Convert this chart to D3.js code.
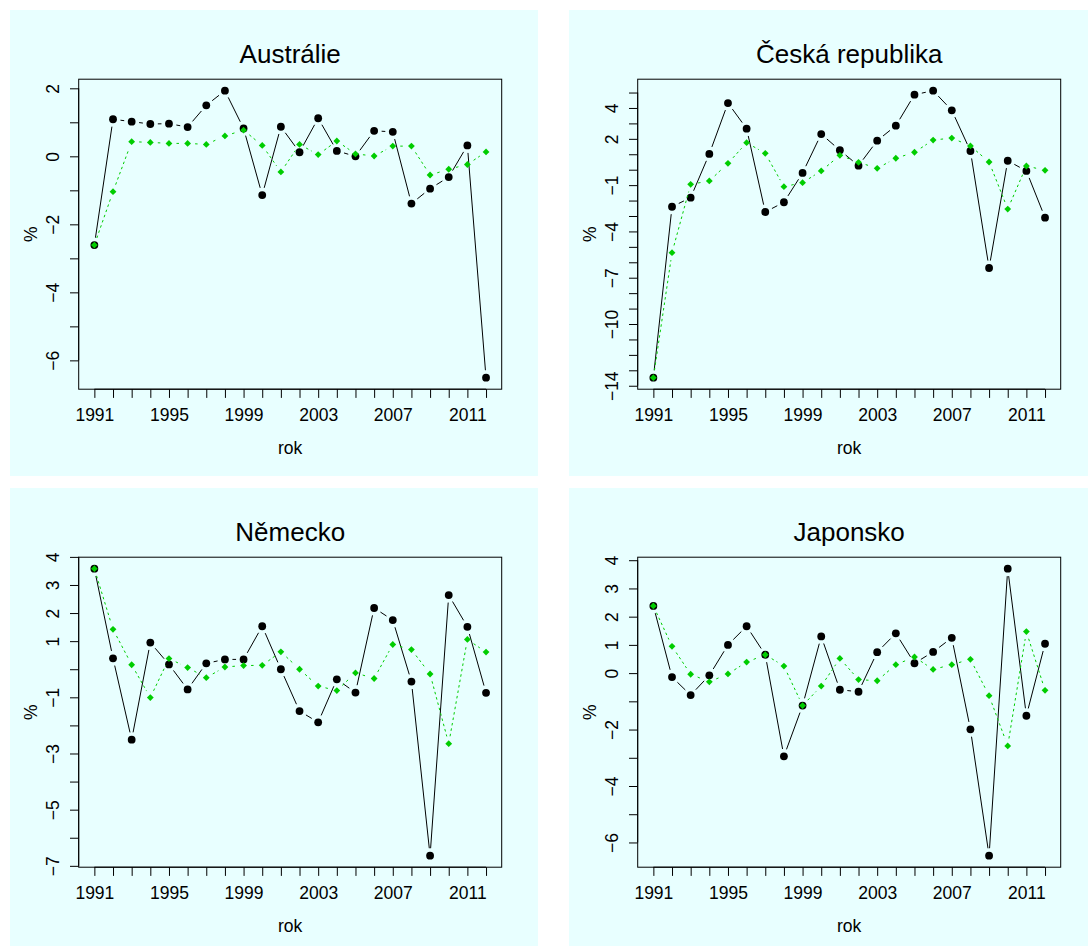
<!DOCTYPE html>
<html>
<head>
<meta charset="utf-8">
<script src="https://cdn.jsdelivr.net/npm/d3@7"></script>
<style>
  html, body { margin: 0; padding: 0; background: #ffffff; }
  svg { display: block; }
  text { font-family: "Liberation Sans", Arial, Helvetica, sans-serif; fill: #000; }
</style>
</head>
<body>
<svg id="chart" width="1088" height="946"></svg>
<script>
// ---------- data ----------
const years = [1991,1992,1993,1994,1995,1996,1997,1998,1999,2000,2001,2002,2003,2004,2005,2006,2007,2008,2009,2010,2011,2012];
const xLabelYears = [1991,1995,1999,2003,2007,2011];

const titles = ["Austrálie", "Česká republika", "Německo", "Japonsko"];
const xTitle = "rok";
const yTitle = "%";

// Austrálie
const ausBlack = [-2.61,1.09,1.02,0.95,0.96,0.86,1.50,1.93,0.82,-1.14,0.87,0.12,1.12,0.16,0.00,0.75,0.72,-1.39,-0.95,-0.61,0.32,-6.51];
const ausGreen = [-2.61,-1.04,0.43,0.41,0.38,0.38,0.35,0.60,0.77,0.32,-0.46,0.35,0.05,0.45,0.07,0.01,0.30,0.30,-0.55,-0.38,-0.24,0.13];
const ausTicks = [-6,-5,-4,-3,-2,-1,0,1,2];
const ausLabels = [-6,-4,-2,0,2];

// Česká republika
const czeBlack = [-13.48,-2.40,-1.81,1.02,4.32,2.66,-2.74,-2.11,-0.21,2.31,1.26,0.26,1.88,2.85,4.86,5.12,3.85,1.21,-6.37,0.58,-0.08,-3.11];
const czeGreen = [-13.48,-5.38,-0.95,-0.73,0.41,1.75,1.06,-1.10,-0.84,-0.08,0.93,0.48,0.09,0.74,1.13,1.92,2.05,1.54,0.50,-2.55,0.24,-0.04];
const czeTicks = [-14,-13,-12,-11,-10,-9,-8,-7,-6,-5,-4,-3,-2,-1,0,1,2,3,4,5];
const czeLabels = [-14,-10,-7,-4,-1,2,4];

// Německo
const deuBlack = [3.58,0.39,-2.51,0.95,0.17,-0.72,0.21,0.35,0.35,1.53,0.00,-1.49,-1.89,-0.36,-0.83,2.18,1.75,-0.44,-6.64,2.64,1.51,-0.84];
const deuGreen = [3.58,1.42,0.16,-1.01,0.38,0.06,-0.30,0.08,0.13,0.14,0.62,0.00,-0.60,-0.76,-0.13,-0.33,0.88,0.70,-0.17,-2.65,1.06,0.61];
const deuTicks = [-7,-6,-5,-4,-3,-2,-1,0,1,2,3,4];
const deuLabels = [-7,-5,-3,-1,1,2,3,4];

// Japonsko
const jpnBlack = [2.38,-0.14,-0.78,-0.08,1.00,1.66,0.65,-2.95,-1.15,1.30,-0.59,-0.66,0.74,1.41,0.35,0.75,1.25,-1.99,-6.47,3.70,-1.51,1.04];
const jpnGreen = [2.38,0.95,-0.04,-0.31,-0.03,0.39,0.65,0.25,-1.15,-0.46,0.52,-0.23,-0.27,0.30,0.57,0.13,0.30,0.49,-0.80,-2.58,1.47,-0.61];
const jpnTicks = [-6,-5,-4,-3,-2,-1,0,1,2,3,4];
const jpnLabels = [-6,-4,-2,0,1,2,3,4];

const panels = [
  { title: titles[0], black: ausBlack, green: ausGreen, ticks: ausTicks, labels: ausLabels },
  { title: titles[1], black: czeBlack, green: czeGreen, ticks: czeTicks, labels: czeLabels },
  { title: titles[2], black: deuBlack, green: deuGreen, ticks: deuTicks, labels: deuLabels },
  { title: titles[3], black: jpnBlack, green: jpnGreen, ticks: jpnTicks, labels: jpnLabels }
];

// ---------- layout / style ----------
const panelX = [10, 569];
const panelY = [10, 488];
const panelW = 528, panelH = 466;
const boxOffX = 68.7, boxOffY = 69.2;
const boxW = 423, boxH = 310;
const bgColor = "#E8FFFF";
const greenColor = "#00CD00";
const gap = 7.5;
const tickLen = 8.7;
const fontSize = 17.5;
const titleSize = 26;

const fmt = v => (v < 0 ? "\u2212" + Math.abs(v) : String(v));

const svg = d3.select("#chart");

function gappedSegments(pts) {
  const segs = [];
  for (let i = 0; i < pts.length - 1; i++) {
    const [x1, y1] = pts[i], [x2, y2] = pts[i + 1];
    const dx = x2 - x1, dy = y2 - y1;
    const len = Math.hypot(dx, dy);
    if (len <= 2 * gap) continue;
    const ux = dx / len, uy = dy / len;
    segs.push([x1 + ux * gap, y1 + uy * gap, x2 - ux * gap, y2 - uy * gap]);
  }
  return segs;
}

panels.forEach((p, i) => {
  const ox = panelX[i % 2], oy = panelY[Math.floor(i / 2)];
  const g = svg.append("g").attr("transform", `translate(${ox},${oy})`);

  g.append("rect").attr("x", 0).attr("y", 0).attr("width", panelW).attr("height", panelH)
    .attr("fill", bgColor);

  const left = boxOffX, top = boxOffY, right = left + boxW, bottom = top + boxH;

  const x0 = years[0], x1 = years[years.length - 1];
  const x = d3.scaleLinear()
    .domain([x0 - 0.04 * (x1 - x0), x1 + 0.04 * (x1 - x0)])
    .range([left, right]);
  const all = p.black.concat(p.green);
  const mn = d3.min(all), mx = d3.max(all), sp = mx - mn;
  const y = d3.scaleLinear().domain([mn - 0.04 * sp, mx + 0.04 * sp]).range([bottom, top]);

  // box
  g.append("rect").attr("x", left).attr("y", top).attr("width", boxW).attr("height", boxH)
    .attr("fill", "none").attr("stroke", "#000").attr("stroke-width", 1);

  // x axis
  const xAxis = d3.axisBottom(x).tickValues(years).tickSize(tickLen).tickSizeOuter(0)
    .tickFormat(d => xLabelYears.includes(d) ? String(d) : "");
  const xg = g.append("g").attr("transform", `translate(0,${bottom})`).call(xAxis);
  xg.select(".domain").attr("d", `M${x(years[0])},0H${x(years[years.length - 1])}`).attr("stroke", "#000");
  xg.selectAll(".tick line").attr("stroke", "#000");
  xg.selectAll(".tick text").attr("y", 31.5).attr("dy", null)
    .style("font-size", fontSize + "px").style("font-family", "'Liberation Sans', Arial, sans-serif")
    .attr("fill", "#000");

  // y axis
  const yAxis = d3.axisLeft(y).tickValues(p.ticks).tickSize(tickLen).tickSizeOuter(0)
    .tickFormat(d => p.labels.includes(d) ? fmt(d) : "");
  const yg = g.append("g").attr("transform", `translate(${left},0)`).call(yAxis);
  yg.select(".domain").attr("d", `M0,${y(p.ticks[0])}V${y(p.ticks[p.ticks.length - 1])}`).attr("stroke", "#000");
  yg.selectAll(".tick line").attr("stroke", "#000");
  yg.selectAll(".tick text")
    .attr("x", null).attr("dy", null)
    .attr("transform", "translate(-19.4,0) rotate(-90)")
    .attr("text-anchor", "middle")
    .style("font-size", fontSize + "px").style("font-family", "'Liberation Sans', Arial, sans-serif")
    .attr("fill", "#000");

  // titles
  g.append("text").attr("x", (left + right) / 2).attr("y", top - 15.9)
    .attr("text-anchor", "middle").style("font-size", titleSize + "px").text(p.title);
  g.append("text").attr("x", (left + right) / 2).attr("y", bottom + 64.8)
    .attr("text-anchor", "middle").style("font-size", fontSize + "px").text(xTitle);
  g.append("text").attr("transform", `translate(27.3,${(top + bottom) / 2}) rotate(-90)`)
    .attr("text-anchor", "middle").style("font-size", fontSize + "px").text(yTitle);

  // black series
  const bPts = years.map((yr, k) => [x(yr), y(p.black[k])]);
  g.append("g").selectAll("line").data(gappedSegments(bPts)).join("line")
    .attr("x1", d => d[0]).attr("y1", d => d[1]).attr("x2", d => d[2]).attr("y2", d => d[3])
    .attr("stroke", "#000").attr("stroke-width", 1);
  g.append("g").selectAll("circle").data(bPts).join("circle")
    .attr("cx", d => d[0]).attr("cy", d => d[1]).attr("r", 3.9).attr("fill", "#000");

  // green series
  const gPts = years.map((yr, k) => [x(yr), y(p.green[k])]);
  g.append("g").selectAll("line").data(gappedSegments(gPts)).join("line")
    .attr("x1", d => d[0]).attr("y1", d => d[1]).attr("x2", d => d[2]).attr("y2", d => d[3])
    .attr("stroke", greenColor).attr("stroke-width", 1).attr("stroke-dasharray", "2.5,3");
  const dsz = 3.4;
  g.append("g").selectAll("path").data(gPts).join("path")
    .attr("d", d => `M${d[0]},${d[1] - dsz}L${d[0] + dsz},${d[1]}L${d[0]},${d[1] + dsz}L${d[0] - dsz},${d[1]}Z`)
    .attr("fill", greenColor);
});
</script>
</body>
</html>
